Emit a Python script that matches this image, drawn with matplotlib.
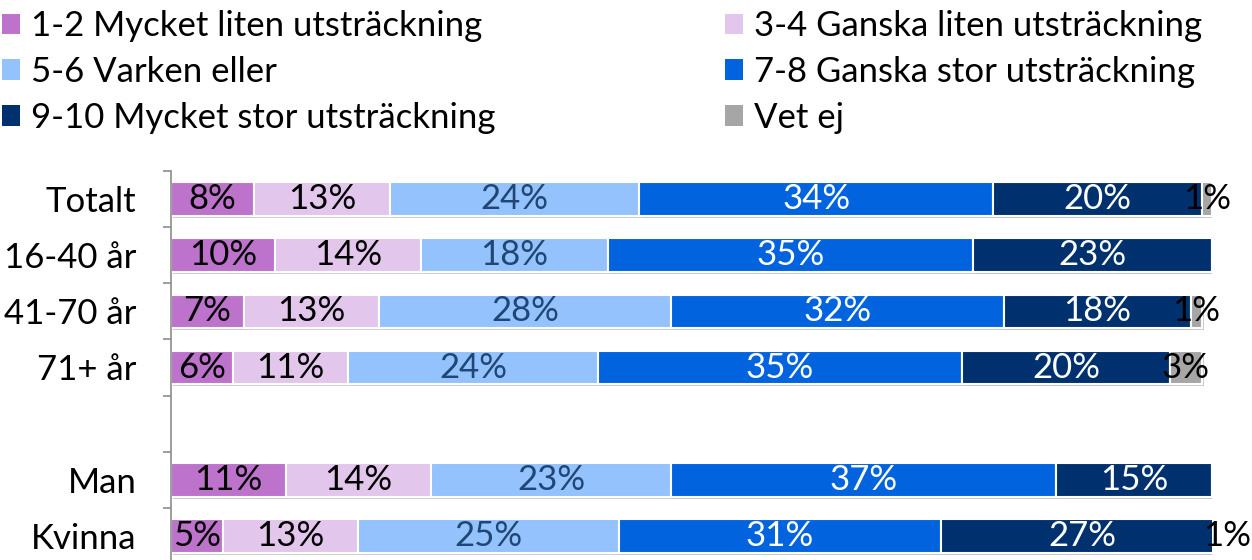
import matplotlib
matplotlib.use("Agg")
import matplotlib.pyplot as plt
import matplotlib.patheffects as pe
from matplotlib.patches import Patch
import numpy as np

plt.rcParams['font.family'] = ['Lato', 'DejaVu Sans']

categories = ["Totalt", "16-40 år", "41-70 år", "71+ år", "", "Man", "Kvinna"]
series_names = ["1-2 Mycket liten utsträckning", "3-4 Ganska liten utsträckning",
                "5-6 Varken eller", "7-8 Ganska stor utsträckning",
                "9-10 Mycket stor utsträckning", "Vet ej"]
s_1_2 = [8, 10, 7, 6, 0, 11, 5]
s_3_4 = [13, 14, 13, 11, 0, 14, 13]
s_5_6 = [24, 18, 28, 24, 0, 23, 25]
s_7_8 = [34, 35, 32, 35, 0, 37, 31]
s_9_10 = [20, 23, 18, 20, 0, 15, 27]
s_vet = [1, 0, 1, 3, 0, 0, 1]
series = [s_1_2, s_3_4, s_5_6, s_7_8, s_9_10, s_vet]

colors = ["#BD72CB", "#E3C6EC", "#94C2FC", "#0263DF", "#00316F", "#A6A6A6"]
text_colors = ["black", "black", "#1F4675", "white", "white", "black"]

W, H = 1252, 560
fig = plt.figure(figsize=(W / 100, H / 100), dpi=100)
ax = fig.add_axes([171 / W, 1 - 564 / H, 1041 / W, (564 - 171) / H])

y = np.arange(len(categories))
left = np.zeros(len(categories))
fs = 25
for vals, c, tc in zip(series, colors, text_colors):
    vals = np.array(vals, dtype=float)
    bars = ax.barh(y, vals, left=left, height=0.6, color=c, edgecolor="white",
                   linewidth=1.5, zorder=2)
    for b in bars:
        b.set_path_effects([pe.SimplePatchShadow(offset=(1.5, -1.5), alpha=0.25),
                            pe.Normal()])
    for yi, v, l in zip(y, vals, left):
        if v > 0:
            ax.text(l + v / 2, yi, f"{int(v)}%", ha="center", va="center",
                    color=tc, fontsize=fs, zorder=3)
    left += vals

ax.set_xlim(0, 100)
ax.set_ylim(len(categories) - 0.5, -0.5)
ax.set_yticks(y)
ax.set_yticklabels(categories, fontsize=fs)
ax.tick_params(axis="y", which="major", length=0, pad=25)
ax.set_yticks(np.arange(-0.5, len(categories) + 0.5, 1), minor=True)
ax.tick_params(axis="y", which="minor", length=6, width=1.2, color="#8C8C8C",
               direction="out")
ax.set_xticks([])
for s in ["top", "right", "bottom"]:
    ax.spines[s].set_visible(False)
ax.spines["left"].set_color("#8C8C8C")
ax.spines["left"].set_linewidth(1.2)

handles = [Patch(facecolor=c, edgecolor="none") for c in colors]
order = [0, 2, 4, 1, 3, 5]
fig.legend([handles[i] for i in order], [series_names[i] for i in order],
           ncol=2, loc="upper left", bbox_to_anchor=(2 / W, 1 - 10 / H),
           frameon=False, fontsize=fs, handlelength=0.52, handleheight=0.52,
           handletextpad=0.32, columnspacing=6.6, labelspacing=0.4,
           borderaxespad=0, borderpad=0)

fig.savefig("out.png", dpi=100)
